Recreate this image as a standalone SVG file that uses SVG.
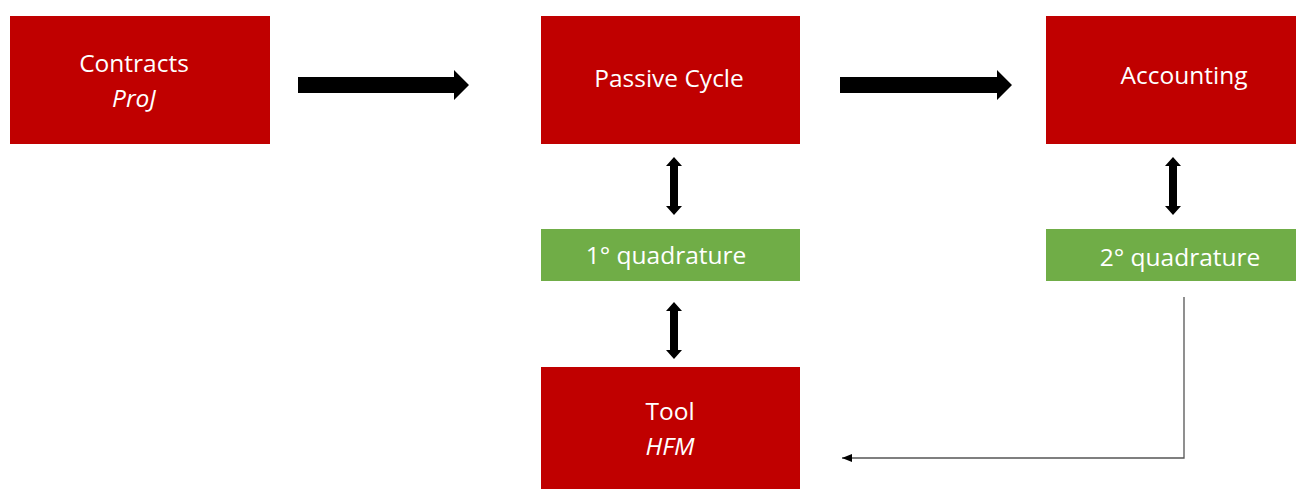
<svg xmlns="http://www.w3.org/2000/svg" width="1296" height="489" viewBox="0 0 1296 489">
<style>
.red{fill:#C00000}
.green{fill:#70AD47}
.t{font-family:"Open Sans","Liberation Sans",sans-serif;font-size:24.5px;fill:#fff;text-anchor:middle}
.i{font-style:italic}
.big{fill:#000}
</style>
<defs>
<marker id="ah" markerWidth="10" markerHeight="8" refX="10" refY="4" orient="auto" markerUnits="userSpaceOnUse">
<path d="M0,0 L10,4 L0,8 Z" fill="#000"/>
</marker>
</defs>
<rect width="1296" height="489" fill="#fff"/>
<g id="contracts"><rect class="red" x="10" y="16" width="260" height="128"/><text class="t" x="134" y="72">Contracts</text><text class="t i" x="134" y="107">ProJ</text></g>
<g id="passive"><rect class="red" x="541" y="16" width="259" height="128"/><text class="t" x="669" y="87">Passive Cycle</text></g>
<g id="accounting"><rect class="red" x="1046" y="16" width="250" height="128"/><text class="t" x="1184" y="84">Accounting</text></g>
<g id="q1"><rect class="green" x="541" y="229" width="259" height="52"/><text class="t" x="666" y="264">1° quadrature</text></g>
<g id="q2"><rect class="green" x="1046" y="229" width="250" height="52"/><text class="t" x="1180" y="266">2° quadrature</text></g>
<g id="tool"><rect class="red" x="541" y="367" width="259" height="122"/><text class="t" x="670" y="420">Tool</text><text class="t i" x="670" y="455">HFM</text></g>
<g id="connectors">
<path class="big" d="M298,77 L454,77 L454,70 L469,85 L454,100 L454,93 L298,93 Z"/>
<path class="big" d="M840,77 L997,77 L997,70 L1012,85 L997,100 L997,93 L840,93 Z"/>
<path class="big" d="M674,157 L682,166 L678,166 L678,206 L682,206 L674,215 L666,206 L670,206 L670,166 L666,166 Z"/>
<path class="big" d="M674,302 L682,311 L678,311 L678,350 L682,350 L674,359 L666,350 L670,350 L670,311 L666,311 Z"/>
<path class="big" d="M1173,157 L1181,166 L1177,166 L1177,206 L1181,206 L1173,215 L1165,206 L1169,206 L1169,166 L1165,166 Z"/>
<path d="M1184,297 L1184,458 L842,458" fill="none" stroke="#555" stroke-width="1.3" marker-end="url(#ah)"/>
</g>
</svg>
